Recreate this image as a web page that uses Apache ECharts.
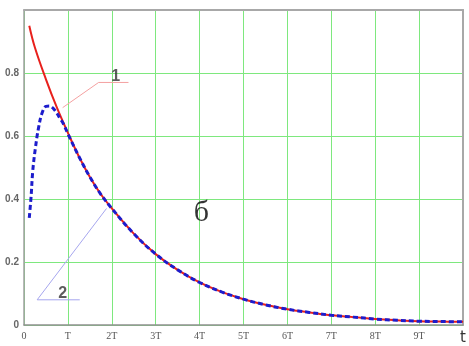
<!DOCTYPE html>
<html><head><meta charset="utf-8">
<script src="https://cdn.jsdelivr.net/npm/echarts@6/dist/echarts.min.js"></script>
<style>html,body{margin:0;padding:0;background:#fff}#c{width:469px;height:346px}</style>
</head><body><div id="c"></div>
<script>
// time in units of T
const tRed  = [0.12,0.25,0.5,0.75,1,1.25,1.5,1.75,2,2.5,3,3.5,4,4.5,5,5.5,6,6.5,7,7.5,8,8.5,9,9.5,10];
const red   = [0.95,0.88,0.78,0.69,0.61,0.535,0.47,0.415,0.37,0.29,0.225,0.175,0.135,0.105,0.082,0.064,0.05,0.04,0.031,0.025,0.019,0.015,0.012,0.011,0.01];
const tBlue = [0.12,0.16,0.2,0.26,0.33,0.41,0.5,0.58,0.67,0.75,0.82,0.9,1,1.25,1.5,1.75,2,2.5,3,3.5,4,4.5,5,5.5,6,6.5,7,7.5,8,8.5,9,9.5,10];
const blue  = [0.34,0.405,0.49,0.562,0.625,0.672,0.694,0.695,0.687,0.672,0.656,0.638,0.607,0.535,0.47,0.415,0.37,0.29,0.225,0.175,0.135,0.105,0.082,0.064,0.05,0.04,0.031,0.025,0.019,0.015,0.012,0.011,0.01];
const xTickLabels = ['0','T','2T','3T','4T','5T','6T','7T','8T','9T','t'];
const yTickLabels = ['0','0.2','0.4','0.6','0.8',''];
// leader lines for labels (data coordinates)
const leader1 = [[0.88,0.69],[1.70,0.77],[2.38,0.77]];
const leader2 = [[1.88,0.37],[0.30,0.08],[1.27,0.08]];
const label1 = [2.09,0.79];
const label2 = [0.88,0.10];
const panelLabel = [4.04,0.355];

const zip = (a,b)=>a.map((v,i)=>[v,b[i]]);
const chart = echarts.init(document.getElementById('c'));
const frame = {show:true,onZero:false,lineStyle:{color:'#a8a8a8',width:2}};
chart.setOption({
  animation:false,
  grid:{left:24,top:10,right:5,bottom:16},
  xAxis:[{type:'value',min:0,max:10,interval:1,
    axisLine:{show:true,onZero:false,lineStyle:{color:'#909090',width:1.5}},
    axisTick:{show:false},
    splitLine:{show:true,lineStyle:{color:'#7ee87e',width:1}},
    axisLabel:{margin:6,color:'#555',fontFamily:'Liberation Serif',fontSize:10,
      formatter:v=>{const s=xTickLabels[Math.round(v)];return Math.round(v)===10?'{t|'+s+'}':s;},
      rich:{t:{fontFamily:'DejaVu Sans',fontSize:15,color:'#333',padding:[0,0,3,0]}}}
  },{type:'value',position:'top',min:0,max:10,axisLine:frame,axisTick:{show:false},axisLabel:{show:false},splitLine:{show:false}}],
  yAxis:[{type:'value',min:0,max:1,interval:0.2,
    axisLine:{show:true,onZero:false,lineStyle:{color:'#a0a0a0',width:1.5}},
    axisTick:{show:false},
    splitLine:{show:true,lineStyle:{color:'#7ee87e',width:1}},
    axisLabel:{margin:5,color:'#666',fontWeight:'bold',fontFamily:'Liberation Sans',fontSize:10,
      formatter:v=>yTickLabels[Math.round(v*5)]}
  },{type:'value',position:'right',min:0,max:1,axisLine:frame,axisTick:{show:false},axisLabel:{show:false},splitLine:{show:false}}],
  series:[
    {type:'line',data:leader1,symbol:'none',lineStyle:{color:'#f4a0a0',width:1},silent:true},
    {type:'line',data:leader2,symbol:'none',lineStyle:{color:'#a6a6ee',width:1},silent:true},
    {type:'line',data:zip(tRed,red),smooth:0.4,symbol:'none',lineStyle:{color:'#e8201c',width:2}},
    {type:'line',data:zip(tBlue,blue),smooth:0.4,symbol:'none',lineStyle:{color:'#1c1ccc',width:3,type:[5,3]}},
    {type:'scatter',symbolSize:0,silent:true,
      data:[{value:label1,name:'1'},{value:label2,name:'2'}],
      label:{show:true,position:'inside',formatter:p=>p.name,color:'#333',fontSize:16,fontWeight:'bold',fontFamily:'Liberation Sans'}},
    {type:'scatter',symbolSize:0,silent:true,
      data:[{value:panelLabel,name:'б'}],
      label:{show:true,position:'inside',formatter:p=>p.name,color:'#000',fontSize:30,fontFamily:'Liberation Serif'}}
  ]
});
</script></body></html>
